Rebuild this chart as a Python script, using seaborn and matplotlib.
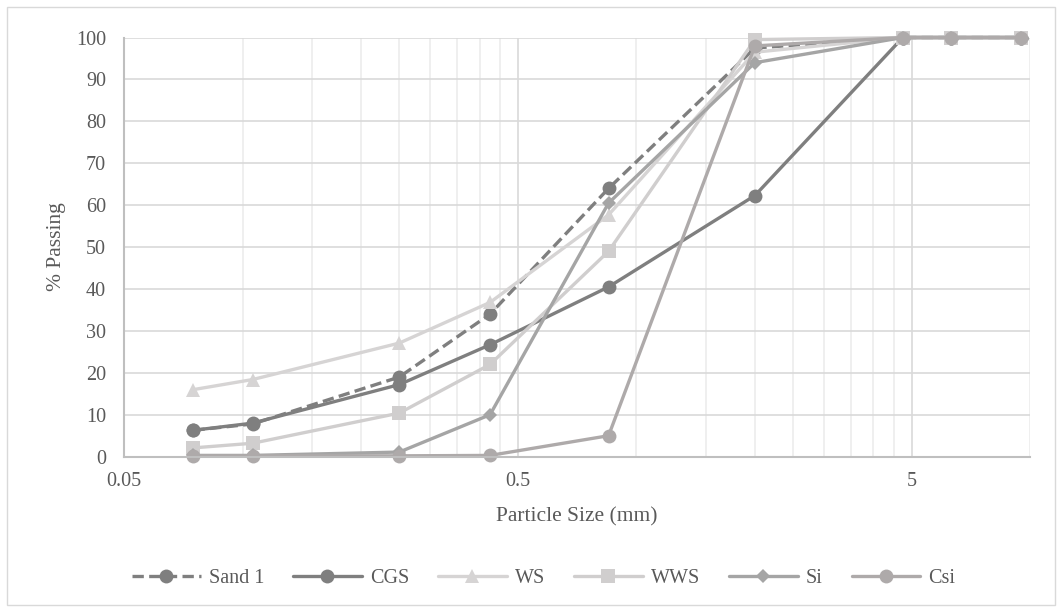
"""Particle size distribution curves (gradation chart)."""

import matplotlib

matplotlib.use("Agg")
import matplotlib.pyplot as plt
import pandas as pd
import seaborn as sns
from matplotlib.patches import Rectangle
from matplotlib.ticker import FixedLocator, FuncFormatter, NullFormatter

# sieve sizes (mm)
sieve_mm = [0.075, 0.106, 0.25, 0.425, 0.85, 2.0, 4.75, 6.3, 9.5]

# % passing per material
sand_1 = [6.3, 7.8, 19.0, 34.0, 64.0, 97.5, 100, 100, 100]
cgs = [6.3, 8.0, 17.2, 26.7, 40.5, 62.3, 100, 100, 100]
ws = [16.0, 18.4, 27.1, 36.8, 57.7, 96.5, 100, 100, 100]
wws = [2.1, 3.2, 10.4, 22.0, 49.0, 99.5, 100, 100, 100]
si = [0.3, 0.3, 1.1, 10.0, 60.5, 94.0, 100, 100, 100]
csi = [0.2, 0.2, 0.2, 0.3, 5.0, 98.0, 100, 100, 100]

materials = ["Sand 1", "CGS", "WS", "WWS", "Si", "Csi"]
passing = [sand_1, cgs, ws, wws, si, csi]

colors = ["#7f7f7f", "#7f7f7f", "#d6d4d4", "#d0cece", "#a5a5a5", "#aeaaaa"]
markers = ["o", "o", "^", "s", "D", "o"]
marker_sizes = [10, 10, 10, 10, 7, 10]

df = pd.DataFrame(
    [
        {"material": m, "size": s, "passing": p}
        for m, vals in zip(materials, passing)
        for s, p in zip(sieve_mm, vals)
    ]
)

sns.set_style("white")
plt.rcParams["font.family"] = ["Liberation Serif", "DejaVu Serif"]
text_color = "#595959"

fig = plt.figure(figsize=(10.62, 6.12), dpi=100)
ax = fig.add_axes([0.1168, 0.2538, 0.8532, 0.6849])

for name, color, marker, ms in zip(materials, colors, markers, marker_sizes):
    sub = df[df["material"] == name]
    sns.lineplot(
        data=sub, x="size", y="passing", ax=ax, sort=False,
        color=color, marker=marker, markersize=ms, markeredgewidth=0,
        linewidth=2.4, label=name, clip_on=False,
    )
    if name == "Sand 1":
        ax.lines[-1].set_dashes((3.4, 1.6))

ax.set_xscale("log")
ax.set_xlim(0.05, 10)
ax.set_ylim(0, 100)

major_x = [0.05, 0.5, 5]
minor_x = [d * k for d in (0.05, 0.5) for k in range(2, 10)] + [10]
ax.xaxis.set_major_locator(FixedLocator(major_x))
ax.xaxis.set_minor_locator(FixedLocator(minor_x))
ax.xaxis.set_major_formatter(FuncFormatter(lambda v, _: f"{v:g}"))
ax.xaxis.set_minor_formatter(NullFormatter())
ax.set_yticks(range(0, 101, 10))

ax.grid(True, which="major", color="#d9d9d9", linewidth=1.2)
ax.grid(True, which="minor", axis="x", color="#ececec", linewidth=1.2)
ax.set_axisbelow(True)

for side in ("top", "right"):
    ax.spines[side].set_visible(False)
for side in ("left", "bottom"):
    ax.spines[side].set_color("#bfbfbf")
    ax.spines[side].set_linewidth(1.5)

ax.tick_params(axis="both", which="both", length=0, labelsize=14.5, colors=text_color)
ax.tick_params(axis="y", pad=13)
ax.tick_params(axis="x", pad=11)

ax.set_xlabel("Particle Size (mm)", fontsize=15.5, color=text_color, labelpad=12)
ax.set_ylabel("% Passing", fontsize=15.5, color=text_color, labelpad=7)

ax.legend(
    loc="center", bbox_to_anchor=(0.512, 0.055), bbox_transform=fig.transFigure,
    ncol=6, frameon=False, fontsize=14.5, handlelength=3.4, handletextpad=0.4,
    columnspacing=1.45, labelcolor=text_color,
)

fig.patches.append(
    Rectangle((0.0066, 0.0114), 0.9868, 0.9772, transform=fig.transFigure,
              fill=False, edgecolor="#d9d9d9", linewidth=1.0)
)

fig.savefig("out.png", dpi=100)
